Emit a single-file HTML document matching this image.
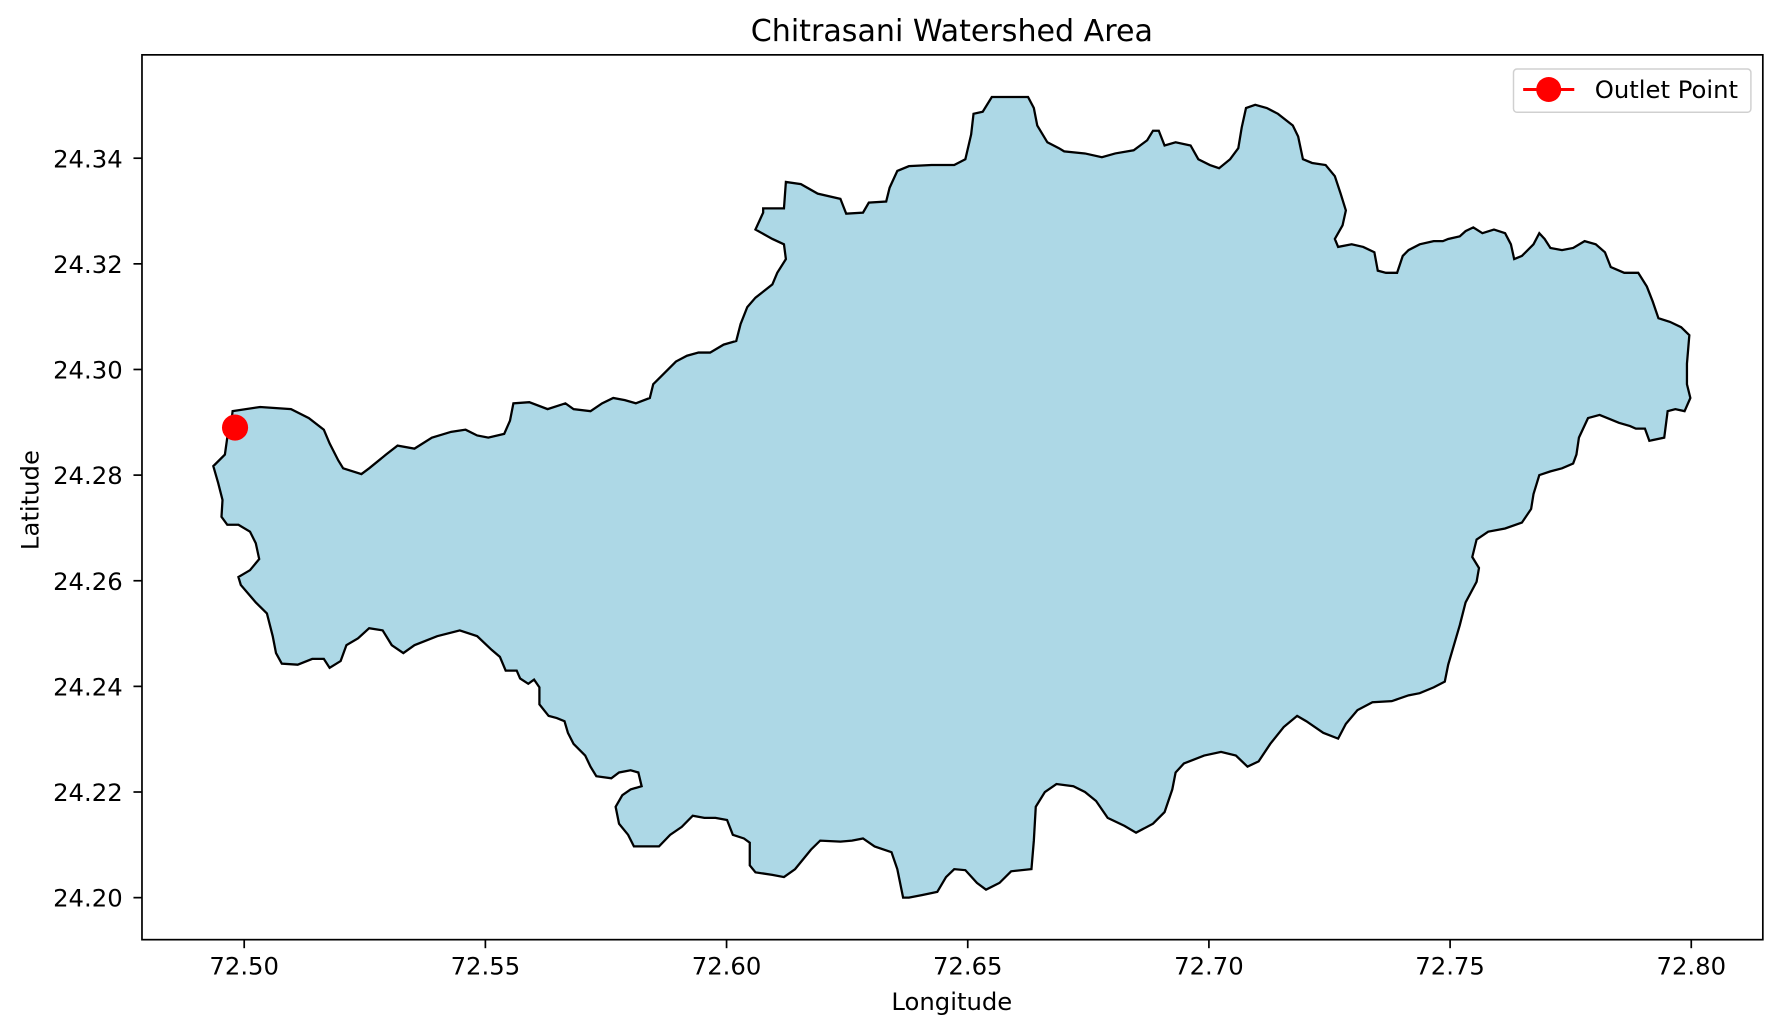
<!DOCTYPE html>
<html><head><meta charset="utf-8"><style>
html,body{margin:0;padding:0;background:#fff;}
svg{display:block;font-family:"DejaVu Sans","Liberation Sans",sans-serif;}
</style></head><body>
<svg id="chart" width="1781" height="1032" viewBox="0 0 1568 908" xmlns="http://www.w3.org/2000/svg">
<rect x="0" y="0" width="1568" height="908" fill="#fff"/>
<text x="838" y="36" text-anchor="middle" font-size="26.5" fill="#000">Chitrasani Watershed Area</text>
<g id="plot"></g>
<g id="axes"></g>
<text x="838" y="889" text-anchor="middle" font-size="21.4" fill="#000">Longitude</text>
<text x="0" y="0" transform="translate(34,440) rotate(-90)" text-anchor="middle" font-size="21.4" fill="#000">Latitude</text>
<g>
<rect x="1332.5" y="60.5" width="209" height="38" rx="3" fill="#fff" fill-opacity="0.8" stroke="#d0d0d0" stroke-width="1.3"/>
<line x1="1341" y1="78.5" x2="1386" y2="78.5" stroke="#ff0000" stroke-width="2.6"/>
<circle cx="1363.5" cy="78.5" r="11" fill="#ff0000"/>
<text x="1404" y="86" font-size="21.4" fill="#000">Outlet Point</text>
</g>
</svg>
<script>
const lonValues = [72.4972,72.4976,72.5033,72.5097,72.5134,72.5165,72.5177,72.5195,72.5205,72.5243,72.5259,72.5294,72.5318,72.5353,72.5389,72.5429,72.5459,72.5483,72.5506,72.5539,72.5551,72.5558,72.5591,72.5629,72.5666,72.5683,72.5718,72.5742,72.5765,72.5789,72.5812,72.5841,72.5848,72.5895,72.5918,72.5942,72.5966,72.5994,72.6020,72.6029,72.6043,72.6060,72.6095,72.6105,72.6123,72.6119,72.6095,72.6060,72.6076,72.6076,72.6119,72.6123,72.6154,72.6189,72.6236,72.6248,72.6283,72.6295,72.6331,72.6338,72.6354,72.6378,72.6425,72.6472,72.6495,72.6507,72.6512,72.6531,72.6550,72.6625,72.6637,72.6644,72.6665,72.6689,72.6700,72.6743,72.6778,72.6806,72.6844,72.6872,72.6884,72.6896,72.6908,72.6931,72.6962,72.6978,72.7002,72.7021,72.7044,72.7061,72.7068,72.7077,72.7096,72.7120,72.7143,72.7174,72.7185,72.7195,72.7214,72.7242,72.7261,72.7273,72.7284,72.7277,72.7261,72.7268,72.7296,72.7320,72.7343,72.7350,72.7367,72.7390,72.7402,72.7414,72.7437,72.7466,72.7485,72.7496,72.7520,72.7532,72.7548,72.7567,72.7591,72.7614,72.7626,72.7633,72.7649,72.7673,72.7685,72.7696,72.7708,72.7732,72.7755,72.7779,72.7802,72.7821,72.7833,72.7861,72.7890,72.7908,72.7920,72.7932,72.7956,72.7979,72.7996,72.7991,72.7991,72.7998,72.7986,72.7967,72.7951,72.7944,72.7913,72.7904,72.7885,72.7873,72.7850,72.7826,72.7810,72.7786,72.7767,72.7762,72.7755,72.7732,72.7708,72.7685,72.7673,72.7668,72.7649,72.7614,72.7579,72.7555,72.7546,72.7560,72.7555,72.7532,72.7520,72.7496,72.7489,72.7466,72.7437,72.7414,72.7379,72.7339,72.7308,72.7284,72.7268,72.7237,72.7202,72.7183,72.7155,72.7127,72.7103,72.7080,72.7056,72.7025,72.6990,72.6948,72.6931,72.6924,72.6908,72.6884,72.6849,72.6825,72.6790,72.6766,72.6743,72.6719,72.6684,72.6660,72.6641,72.6637,72.6632,72.6590,72.6566,72.6538,72.6519,72.6495,72.6472,72.6455,72.6437,72.6406,72.6378,72.6366,72.6354,72.6342,72.6307,72.6283,72.6260,72.6236,72.6194,72.6175,72.6142,72.6119,72.6095,72.6060,72.6048,72.6048,72.6036,72.6013,72.6001,72.5977,72.5954,72.5930,72.5907,72.5883,72.5860,72.5831,72.5808,72.5796,72.5777,72.5770,72.5784,72.5801,72.5824,72.5817,72.5801,72.5777,72.5761,72.5730,72.5718,72.5707,72.5683,72.5671,72.5664,72.5648,72.5631,72.5612,72.5612,72.5601,72.5589,72.5572,72.5565,72.5542,72.5530,72.5513,72.5483,72.5447,72.5400,72.5353,72.5330,72.5306,72.5287,72.5259,72.5236,72.5212,72.5200,72.5177,72.5165,72.5141,72.5111,72.5078,72.5066,72.5059,72.5047,72.5024,72.4993,72.4988,72.5012,72.5031,72.5024,72.5012,72.4988,72.4965,72.4953,72.4955,72.4946,72.4936,72.4960,72.4965];
const latValues = [24.2890,24.2921,24.2929,24.2925,24.2908,24.2886,24.2860,24.2828,24.2813,24.2802,24.2813,24.2839,24.2856,24.2850,24.2871,24.2882,24.2886,24.2875,24.2871,24.2878,24.2903,24.2936,24.2938,24.2925,24.2936,24.2925,24.2921,24.2936,24.2946,24.2942,24.2936,24.2946,24.2972,24.3015,24.3026,24.3032,24.3032,24.3047,24.3054,24.3086,24.3118,24.3136,24.3161,24.3183,24.3209,24.3237,24.3247,24.3265,24.3297,24.3305,24.3305,24.3355,24.3351,24.3333,24.3323,24.3295,24.3297,24.3316,24.3318,24.3344,24.3376,24.3385,24.3387,24.3387,24.3398,24.3445,24.3484,24.3488,24.3516,24.3516,24.3495,24.3462,24.3430,24.3419,24.3413,24.3409,24.3402,24.3409,24.3415,24.3434,24.3452,24.3452,24.3424,24.3430,24.3424,24.3398,24.3387,24.3381,24.3398,24.3419,24.3458,24.3495,24.3501,24.3495,24.3484,24.3462,24.3441,24.3398,24.3391,24.3387,24.3366,24.3333,24.3301,24.3273,24.3247,24.3232,24.3237,24.3232,24.3222,24.3187,24.3183,24.3183,24.3215,24.3226,24.3237,24.3243,24.3243,24.3247,24.3252,24.3262,24.3269,24.3258,24.3265,24.3258,24.3237,24.3209,24.3215,24.3237,24.3258,24.3247,24.3230,24.3226,24.3230,24.3243,24.3237,24.3222,24.3194,24.3183,24.3183,24.3157,24.3129,24.3097,24.3090,24.3080,24.3065,24.3011,24.2972,24.2946,24.2921,24.2925,24.2921,24.2871,24.2865,24.2888,24.2888,24.2893,24.2899,24.2908,24.2914,24.2908,24.2871,24.2839,24.2822,24.2813,24.2807,24.2800,24.2764,24.2736,24.2710,24.2699,24.2693,24.2678,24.2645,24.2624,24.2598,24.2559,24.2516,24.2441,24.2409,24.2398,24.2387,24.2383,24.2372,24.2370,24.2355,24.2329,24.2301,24.2312,24.2334,24.2344,24.2323,24.2291,24.2258,24.2248,24.2269,24.2276,24.2269,24.2254,24.2237,24.2205,24.2162,24.2140,24.2123,24.2136,24.2151,24.2183,24.2200,24.2211,24.2215,24.2200,24.2172,24.2108,24.2054,24.2050,24.2028,24.2015,24.2028,24.2052,24.2054,24.2039,24.2011,24.2005,24.2000,24.2000,24.2054,24.2086,24.2097,24.2112,24.2108,24.2106,24.2108,24.2091,24.2054,24.2039,24.2043,24.2048,24.2061,24.2104,24.2112,24.2119,24.2147,24.2151,24.2151,24.2155,24.2134,24.2119,24.2097,24.2097,24.2097,24.2119,24.2140,24.2172,24.2194,24.2205,24.2211,24.2237,24.2241,24.2237,24.2226,24.2230,24.2248,24.2269,24.2291,24.2312,24.2334,24.2340,24.2344,24.2366,24.2398,24.2413,24.2405,24.2415,24.2430,24.2430,24.2456,24.2469,24.2495,24.2506,24.2495,24.2478,24.2463,24.2478,24.2506,24.2510,24.2491,24.2478,24.2448,24.2435,24.2452,24.2452,24.2441,24.2443,24.2463,24.2495,24.2538,24.2559,24.2592,24.2607,24.2620,24.2641,24.2671,24.2693,24.2706,24.2706,24.2721,24.2753,24.2785,24.2817,24.2839,24.2871];
const outletLon = [72.4981];
const outletLat = [24.2890];
const xTicks = [72.50,72.55,72.60,72.65,72.70,72.75,72.80];
const xTickLabels = ["72.50","72.55","72.60","72.65","72.70","72.75","72.80"];
const yTicks = [24.20,24.22,24.24,24.26,24.28,24.30,24.32,24.34];
const yTickLabels = ["24.20","24.22","24.24","24.26","24.28","24.30","24.32","24.34"];

const NS = "http://www.w3.org/2000/svg";
const AX = {l:125, r:1552, t:48, b:827};
function xScale(lon){ return 215 + (lon - 72.50) * (1274 / 0.30); }
function yScale(lat){ return 790 - (lat - 24.20) * (651 / 0.14); }

const plot = document.getElementById('plot');
const axes = document.getElementById('axes');

let d = '';
for (let i = 0; i < lonValues.length; i++) {
  d += (i ? 'L' : 'M') + xScale(lonValues[i]).toFixed(1) + ',' + yScale(latValues[i]).toFixed(1);
}
d += 'Z';
const poly = document.createElementNS(NS, 'path');
poly.setAttribute('d', d);
poly.setAttribute('fill', '#add8e6');
poly.setAttribute('stroke', '#000');
poly.setAttribute('stroke-width', '2');
poly.setAttribute('stroke-linejoin', 'miter');


plot.appendChild(poly);

for (let i = 0; i < outletLon.length; i++) {
  const c = document.createElementNS(NS, 'circle');
  c.setAttribute('cx', xScale(outletLon[i]));
  c.setAttribute('cy', yScale(outletLat[i]));
  c.setAttribute('r', '11.5');
  c.setAttribute('fill', '#ff0000');
  
  
  plot.appendChild(c);
}

const frame = document.createElementNS(NS, 'rect');
frame.setAttribute('x', AX.l); frame.setAttribute('y', AX.t);
frame.setAttribute('width', AX.r - AX.l); frame.setAttribute('height', AX.b - AX.t);
frame.setAttribute('fill', 'none'); frame.setAttribute('stroke', '#000'); frame.setAttribute('stroke-width', '1.5');


axes.appendChild(frame);

for (let i = 0; i < xTicks.length; i++) {
  const x = xScale(xTicks[i]);
  const t = document.createElementNS(NS, 'line');
  t.setAttribute('x1', x); t.setAttribute('x2', x);
  t.setAttribute('y1', AX.b); t.setAttribute('y2', AX.b + 7.5);
  t.setAttribute('stroke', '#000'); t.setAttribute('stroke-width', '1.5');
  
  
  axes.appendChild(t);
  const lb = document.createElementNS(NS, 'text');
  lb.setAttribute('x', x); lb.setAttribute('y', 857.5);
  lb.setAttribute('text-anchor', 'middle'); lb.setAttribute('font-size', '21.4');
  lb.textContent = xTickLabels[i];
  
  
  axes.appendChild(lb);
}
for (let i = 0; i < yTicks.length; i++) {
  const y = yScale(yTicks[i]);
  const t = document.createElementNS(NS, 'line');
  t.setAttribute('x1', AX.l - 7.5); t.setAttribute('x2', AX.l);
  t.setAttribute('y1', y); t.setAttribute('y2', y);
  t.setAttribute('stroke', '#000'); t.setAttribute('stroke-width', '1.5');
  
  
  axes.appendChild(t);
  const lb = document.createElementNS(NS, 'text');
  lb.setAttribute('x', 108); lb.setAttribute('y', y + 8);
  lb.setAttribute('text-anchor', 'end'); lb.setAttribute('font-size', '21.4');
  lb.textContent = yTickLabels[i];
  
  
  axes.appendChild(lb);
}
</script>
</body></html>
